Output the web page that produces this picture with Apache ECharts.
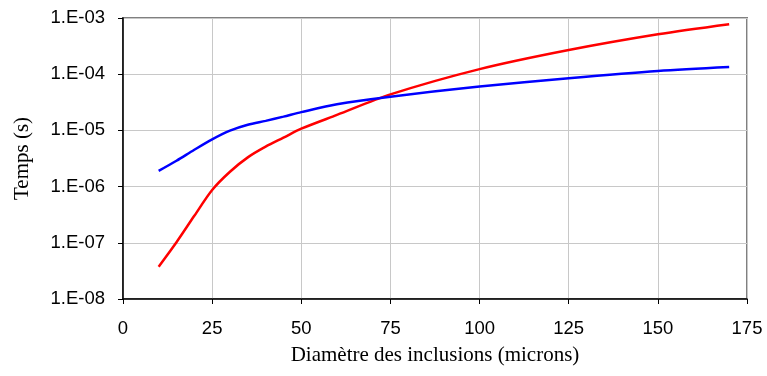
<!DOCTYPE html>
<html><head><meta charset="utf-8">
<script src="https://cdn.jsdelivr.net/npm/echarts@6/dist/echarts.min.js"></script>
<style>html,body{margin:0;padding:0;background:#fff}#c{width:767px;height:376px}</style>
</head><body><div id="c"></div>
<script>
var diameters = [10, 15, 20, 25, 30, 35, 40, 45, 50, 60, 75, 100, 125, 150, 170];
var blueLog = [-5.72, -5.54, -5.345, -5.16, -5.005, -4.90, -4.83, -4.755, -4.675, -4.535, -4.40, -4.22, -4.073, -3.943, -3.872];
var redLog = [-7.425, -6.99, -6.52, -6.06, -5.735, -5.48, -5.29, -5.13, -4.97, -4.725, -4.36, -3.91, -3.57, -3.29, -3.11];
var xTicks = [0, 25, 50, 75, 100, 125, 150, 175];
var yTickLabels = ['1.E-08', '1.E-07', '1.E-06', '1.E-05', '1.E-04', '1.E-03'];

function pts(logs) { return diameters.map(function (d, i) { return [d, Math.pow(10, logs[i])]; }); }

var chart = echarts.init(document.getElementById('c'), null, { renderer: 'canvas' });
chart.setOption({
  animation: false,
  grid: { left: 123, top: 18, right: 20, bottom: 77, show: true, borderColor: '#808080', borderWidth: 2, backgroundColor: 'transparent' },
  xAxis: {
    type: 'value', min: xTicks[0], max: xTicks[xTicks.length - 1], interval: 25,
    name: 'Diamètre des inclusions (microns)', nameLocation: 'middle', nameGap: 46,
    nameTextStyle: { fontFamily: 'Liberation Serif', fontSize: 21, color: '#000' },
    axisLine: { show: true, onZero: false, lineStyle: { color: '#000', width: 1.5 } },
    axisTick: { show: true, length: 5, lineStyle: { color: '#000' } },
    axisLabel: { fontFamily: 'Liberation Sans', fontSize: 18.5, color: '#000', margin: 20 },
    splitLine: { show: true, lineStyle: { color: '#c8c8c8', width: 1 } }
  },
  yAxis: {
    type: 'log', logBase: 10, min: 1e-8, max: 1e-3,
    name: 'Temps (s)', nameLocation: 'middle', nameGap: 90, nameRotate: 90,
    nameTextStyle: { fontFamily: 'Liberation Serif', fontSize: 21, color: '#000' },
    axisLine: { show: true, lineStyle: { color: '#000', width: 1.5 } },
    axisTick: { show: true, length: 5, lineStyle: { color: '#000' } },
    axisLabel: { fontFamily: 'Liberation Sans', fontSize: 18.5, color: '#000', margin: 18,
      formatter: function (v) { var e = Math.round(Math.log10(v)); return yTickLabels[e + 8]; } },
    splitLine: { show: true, lineStyle: { color: '#c8c8c8', width: 1 } }
  },
  series: [
    { type: 'line', data: pts(redLog), smooth: 0.3, symbol: 'none', lineStyle: { color: '#ff0000', width: 2.5 } },
    { type: 'line', data: pts(blueLog), smooth: 0.3, symbol: 'none', lineStyle: { color: '#0000ff', width: 2.5 } }
  ]
});
</script></body></html>
